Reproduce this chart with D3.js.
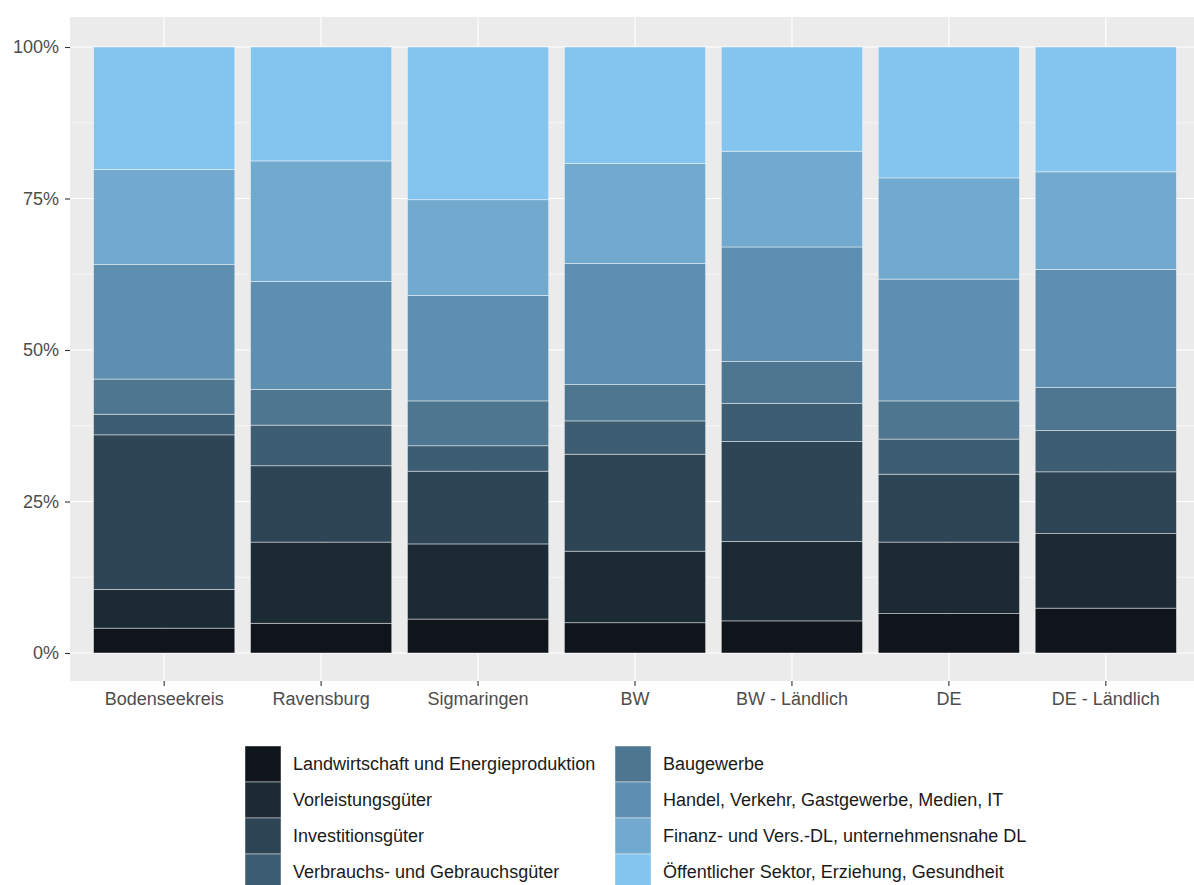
<!DOCTYPE html>
<html>
<head>
<meta charset="utf-8">
<script src="https://cdn.jsdelivr.net/npm/d3@7"></script>
<style>
    body { margin: 0; background: #fff; }
    text { font-family: "Liberation Sans", Arial, sans-serif; }
    .tickLabel { font-size: 18px; fill: #4d4d4d; }
    .legendText { font-size: 18px; fill: #1a1a1a; }
</style>
</head>
<body>
<script>
// regions on the x axis
var categories = ["Bodenseekreis", "Ravensburg", "Sigmaringen", "BW", "BW - Ländlich", "DE", "DE - Ländlich"];

// sectors, bottom of the stack first
var sectors = [
    "Landwirtschaft und Energieproduktion",
    "Vorleistungsgüter",
    "Investitionsgüter",
    "Verbrauchs- und Gebrauchsgüter",
    "Baugewerbe",
    "Handel, Verkehr, Gastgewerbe, Medien, IT",
    "Finanz- und Vers.-DL, unternehmensnahe DL",
    "Öffentlicher Sektor, Erziehung, Gesundheit"
];

// share in % per sector, one value per region (same order as categories)
var landwirtschaft = [4.1, 4.9, 5.6, 5.0, 5.3, 6.5, 7.4];
var vorleistung    = [6.4, 13.4, 12.4, 11.8, 13.1, 11.8, 12.3];
var investition    = [25.5, 12.6, 12.0, 16.0, 16.5, 11.2, 10.2];
var verbrauch      = [3.4, 6.7, 4.2, 5.5, 6.3, 5.8, 6.8];
var bau            = [5.8, 5.9, 7.4, 6.0, 6.9, 6.3, 7.1];
var handel         = [18.9, 17.8, 17.4, 20.0, 18.9, 20.1, 19.5];
var finanz         = [15.7, 19.9, 15.8, 16.5, 15.8, 16.7, 16.1];
var oeffentlich    = [20.2, 18.8, 25.2, 19.2, 17.2, 21.6, 20.6];

var seriesValues = [landwirtschaft, vorleistung, investition, verbrauch, bau, handel, finanz, oeffentlich];

var yTicks = [0, 0.25, 0.5, 0.75, 1];
var yMinorTicks = [0.125, 0.375, 0.625, 0.875];

var colors = ["#0f151a", "#1c2a34", "#2d4555", "#3d5d72", "#4e7690", "#5f8fb0", "#71a9cf", "#84c5f0"];

var width = 1194, height = 885;
var panel = { left: 70, right: 1200, top: 17, bottom: 681 };

// build rows: one object per region, normalised to 1 (position = fill)
var rows = categories.map(function(c, i) {
    var row = { region: c };
    var total = d3.sum(seriesValues, function(s) { return s[i]; });
    sectors.forEach(function(s, j) { row[s] = seriesValues[j][i] / total; });
    return row;
});

var stacked = d3.stack().keys(sectors)(rows);

var xScale = d3.scaleBand()
    .domain(categories)
    .range([panel.left, panel.right])
    .paddingInner(0.1)
    .paddingOuter(0.15);

var yScale = d3.scaleLinear().domain([0, 1]).range([653, 47]);

var colorScale = d3.scaleOrdinal().domain(sectors).range(colors);

var svg = d3.select("body")
    .append("svg")
    .attr("width", width)
    .attr("height", height);

svg.append("rect")
    .attr("width", width).attr("height", height)
    .attr("fill", "#ffffff");

// panel background
svg.append("rect")
    .attr("x", panel.left)
    .attr("y", panel.top)
    .attr("width", panel.right - panel.left)
    .attr("height", panel.bottom - panel.top)
    .attr("fill", "#ebebeb");

// grid
let grid = svg.append("g");
grid.selectAll(".minor")
    .data(yMinorTicks)
    .enter()
    .append("line")
    .attr("x1", panel.left).attr("x2", panel.right)
    .attr("y1", function(d) { return yScale(d); })
    .attr("y2", function(d) { return yScale(d); })
    .attr("stroke", "#fff").attr("stroke-width", 0.6);
grid.selectAll(".major")
    .data(yTicks)
    .enter()
    .append("line")
    .attr("x1", panel.left).attr("x2", panel.right)
    .attr("y1", function(d) { return yScale(d); })
    .attr("y2", function(d) { return yScale(d); })
    .attr("stroke", "#fff").attr("stroke-width", 1.2);
grid.selectAll(".vmajor")
    .data(categories)
    .enter()
    .append("line")
    .attr("x1", function(d) { return xScale(d) + xScale.bandwidth() / 2; })
    .attr("x2", function(d) { return xScale(d) + xScale.bandwidth() / 2; })
    .attr("y1", panel.top).attr("y2", panel.bottom)
    .attr("stroke", "#fff").attr("stroke-width", 1.2);

// stacked bars
svg.append("g")
    .selectAll("g")
    .data(stacked)
    .enter()
    .append("g")
    .attr("fill", function(d) { return colorScale(d.key); })
    .selectAll("rect")
    .data(function(d) { return d; })
    .enter()
    .append("rect")
    .attr("x", function(d) { return xScale(d.data.region); })
    .attr("y", function(d) { return yScale(d[1]); })
    .attr("width", xScale.bandwidth())
    .attr("height", function(d) { return yScale(d[0]) - yScale(d[1]); })
    .attr("stroke", "rgba(255,255,255,0.55)")
    .attr("stroke-width", 0.8);

// axes
let yAxis = svg.append("g")
    .attr("transform", "translate(" + panel.left + ",0)")
    .call(d3.axisLeft(yScale).tickValues(yTicks).tickFormat(d3.format(".0%")).tickSize(5).tickPadding(6));
yAxis.select(".domain").remove();

let xAxis = svg.append("g")
    .attr("transform", "translate(0," + panel.bottom + ")")
    .call(d3.axisBottom(xScale).tickSize(5).tickPadding(6));
xAxis.select(".domain").remove();

svg.selectAll(".tick line").attr("stroke", "#333333").attr("stroke-width", 1.1);
svg.selectAll(".tick text")
    .attr("class", "tickLabel")
    .attr("font-family", null)
    .attr("font-size", null)
    .attr("fill", null);

// legend, two columns of four
let legendItemWidth = 36;
let legendItemHeight = 36;
let legendColX = [245, 615];
let legendTop = 746;
let legend = svg.append("g").attr("class", "legend");

let items = legend.selectAll(".legendItem")
    .data(sectors)
    .enter()
    .append("g")
    .attr("class", "legendItem")
    .attr("transform", function(d, i) {
        var col = Math.floor(i / 4), row = i % 4;
        return "translate(" + legendColX[col] + "," + (legendTop + row * legendItemHeight) + ")";
    });

items.append("rect")
    .attr("width", legendItemWidth)
    .attr("height", legendItemHeight)
    .attr("fill", function(d) { return colorScale(d); })
    .attr("stroke", "rgba(255,255,255,0.55)")
    .attr("stroke-width", 0.8);

items.append("text")
    .attr("class", "legendText")
    .attr("x", legendItemWidth + 12)
    .attr("y", legendItemHeight / 2)
    .attr("dy", "0.35em")
    .text(function(d) { return d; });
</script>
</body>
</html>
